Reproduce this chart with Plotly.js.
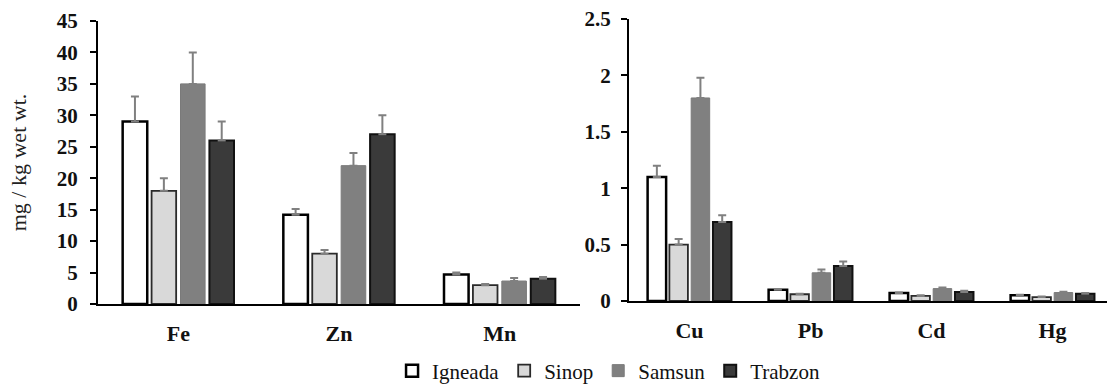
<!DOCTYPE html>
<html>
<head>
<meta charset="utf-8">
<script src="https://cdn.plot.ly/plotly-3.0.1.min.js"></script>
<style>html,body{margin:0;padding:0;background:#fff;}#chart{width:1107px;height:385px;}</style>
</head>
<body>
<div id="chart"></div>
<script>
// Categories
const catsLeft = ["Fe", "Zn", "Mn"];
const catsRight = ["Cu", "Pb", "Cd", "Hg"];
const seriesNames = ["Igneada", "Sinop", "Samsun", "Trabzon"];

// Values (mg / kg wet wt.)
const igneadaLeft = [29, 14.2, 4.7];
const sinopLeft   = [18, 8.0, 3.0];
const samsunLeft  = [35, 22, 3.65];
const trabzonLeft = [26, 27, 4.0];

const igneadaLeftErr = [4, 0.9, 0.3];
const sinopLeftErr   = [2, 0.6, 0.2];
const samsunLeftErr  = [5, 2, 0.5];
const trabzonLeftErr = [3, 3, 0.3];

const igneadaRight = [1.1, 0.1, 0.07, 0.05];
const sinopRight   = [0.5, 0.06, 0.045, 0.035];
const samsunRight  = [1.8, 0.25, 0.11, 0.075];
const trabzonRight = [0.7, 0.31, 0.08, 0.065];

const igneadaRightErr = [0.1, 0.005, 0.005, 0.005];
const sinopRightErr   = [0.05, 0.005, 0.005, 0.005];
const samsunRightErr  = [0.18, 0.03, 0.01, 0.008];
const trabzonRightErr = [0.06, 0.04, 0.01, 0.005];

const fills = ["#ffffff", "#d9d9d9", "#808080", "#3a3a3a"];
const lines = ["#000000", "#2a2a2a", "#7a7a7a", "#111111"];
const lineW = [2.5, 1.8, 1, 2];

const leftVals = [igneadaLeft, sinopLeft, samsunLeft, trabzonLeft];
const leftErrs = [igneadaLeftErr, sinopLeftErr, samsunLeftErr, trabzonLeftErr];
const rightVals = [igneadaRight, sinopRight, samsunRight, trabzonRight];
const rightErrs = [igneadaRightErr, sinopRightErr, samsunRightErr, trabzonRightErr];

const traces = [];
seriesNames.forEach((name, i) => {
  const common = {
    type: "bar",
    name: name,
    legendgroup: name,
    marker: {color: fills[i], line: {color: lines[i], width: lineW[i]}},
    hoverinfo: "skip"
  };
  traces.push(Object.assign({}, common, {
    x: catsLeft, y: leftVals[i], xaxis: "x", yaxis: "y", showlegend: true,
    error_y: {type: "data", symmetric: false, array: leftErrs[i], arrayminus: [0,0,0], color: "#808080", thickness: 2, width: 4}
  }));
  traces.push(Object.assign({}, common, {
    x: catsRight, y: rightVals[i], xaxis: "x2", yaxis: "y2", showlegend: false,
    error_y: {type: "data", symmetric: false, array: rightErrs[i], arrayminus: [0,0,0,0], color: "#808080", thickness: 2, width: 4}
  }));
});

const SERIF = "'Liberation Serif', 'Times New Roman', serif";
const tickFont = {family: SERIF, size: 21, color: "#111", weight: "bold"};
const catFont = {family: SERIF, size: 22, color: "#111", weight: "bold"};
const layout = {
  width: 1107, height: 385,
  margin: {l: 98, r: 0, t: 19, b: 81, autoexpand: false},
  paper_bgcolor: "#fff", plot_bgcolor: "#fff",
  barmode: "group", bargap: 0.28, bargroupgap: 0.15,
  font: {family: SERIF, color: "#111"},
  xaxis: {domain: [0, 0.4777], range: [-0.5, 2.5], showline: true, linecolor: "#000", linewidth: 2, ticks: "", tickfont: catFont, showgrid: false, zeroline: false, fixedrange: true, anchor: "y", ticklabelstandoff: 9},
  yaxis: {domain: [0, 0.993], range: [0, 45], dtick: 5, showline: true, linecolor: "#000", linewidth: 2, ticks: "outside", ticklen: 6, tickwidth: 2, tickcolor: "#000", tickfont: tickFont, showgrid: false, zeroline: false, fixedrange: true, ticklabelstandoff: 8,
    title: {text: "mg / kg wet wt.", font: {family: SERIF, size: 22, color: "#222"}, standoff: 24}},
  xaxis2: {domain: [0.5263, 1], range: [-0.5, 3.45], showline: true, linecolor: "#000", linewidth: 2, ticks: "", tickfont: catFont, showgrid: false, zeroline: false, fixedrange: true, anchor: "y2", ticklabelstandoff: 9},
  yaxis2: {domain: [0.0105, 1], range: [0, 2.5], dtick: 0.5, showline: true, linecolor: "#000", linewidth: 2, ticks: "outside", ticklen: 6, tickwidth: 2, tickcolor: "#000", tickfont: tickFont, showgrid: false, zeroline: false, fixedrange: true, anchor: "x2", ticklabelstandoff: 6},
  legend: {orientation: "h", x: 0.506, xanchor: "center", y: -0.235, yanchor: "middle", font: {family: SERIF, size: 21, color: "#111"}, itemwidth: 30, traceorder: "normal"},
  showlegend: true
};

Plotly.newPlot("chart", traces, layout, {displayModeBar: false, staticPlot: true});
</script>
</body>
</html>
